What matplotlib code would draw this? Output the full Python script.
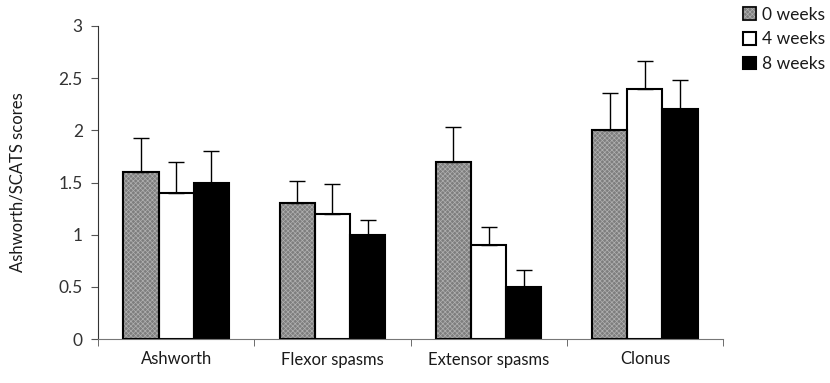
import numpy as np
import matplotlib.pyplot as plt
from matplotlib.legend_handler import HandlerTuple
from matplotlib.patches import Rectangle

plt.rcParams['font.family'] = ['Lato', 'DejaVu Sans']
plt.rcParams['hatch.linewidth'] = 0.5

# mean scores and upper error bars per time point
categories = ["Ashworth", "Flexor spasms", "Extensor spasms", "Clonus"]
weeks_0 = [1.6, 1.3, 1.7, 2.0]
weeks_4 = [1.4, 1.2, 0.9, 2.4]
weeks_8 = [1.5, 1.0, 0.5, 2.2]
err_0 = [0.33, 0.21, 0.33, 0.36]
err_4 = [0.30, 0.29, 0.17, 0.26]
err_8 = [0.30, 0.14, 0.16, 0.28]

series = [
    ("0 weeks", weeks_0, err_0, dict(facecolor="#7e7e7e", hatch="xxxxxxx", edgecolor="#b0b0b0")),
    ("4 weeks", weeks_4, err_4, dict(facecolor="white", edgecolor="black")),
    ("8 weeks", weeks_8, err_8, dict(facecolor="black", edgecolor="black")),
]

fig = plt.figure(figsize=(8.3, 3.83), dpi=100)
ax = fig.add_axes([98 / 830, 44 / 383, 625 / 830, 313 / 383])

x = np.arange(len(categories))
width = 0.225
handles, labels = [], []
for i, (name, vals, errs, style) in enumerate(series):
    pos = x + (i - 1) * width
    bars = ax.bar(pos, vals, width, linewidth=1.5, **style)
    handle = bars
    # hatched bars get a separate black outline
    if "hatch" in style:
        for b in bars:
            ax.add_patch(Rectangle(b.get_xy(), b.get_width(), b.get_height(),
                                   fill=False, edgecolor="black", linewidth=1.5, zorder=3))
        handle = (bars, Rectangle((0, 0), 1, 1, fill=False, edgecolor="black", linewidth=1.2))
    handles.append(handle)
    labels.append(name)
    ax.errorbar(pos, vals, yerr=[np.zeros(len(errs)), errs], fmt="none",
                ecolor="black", elinewidth=1, capsize=6, capthick=1, zorder=1)

ax.set_xlim(-0.5, len(categories) - 0.5)
ax.set_ylim(0, 3)
ax.set_yticks(np.arange(0, 3.01, 0.5))
ax.set_yticklabels(["0", "0.5", "1", "1.5", "2", "2.5", "3"])
ax.set_xticks(x)
ax.set_xticklabels(categories)
ax.set_xticks(np.arange(-0.5, len(categories), 1), minor=True)
ax.tick_params(axis="x", which="major", length=0, pad=9, labelsize=12, labelcolor="#1a1a1a")
ax.tick_params(axis="x", which="minor", length=5, direction="out", color="#555555")
ax.tick_params(axis="y", length=5, direction="out", color="#555555", labelsize=12.5, pad=6,
               labelcolor="#333333")
ax.set_ylabel("Ashworth/SCATS scores", fontsize=12, labelpad=24, color="#1a1a1a")

for side in ("top", "right"):
    ax.spines[side].set_visible(False)
ax.spines["left"].set_color("#333333")
ax.spines["bottom"].set_color("#777777")

leg = fig.legend(handles, labels, loc="upper left", bbox_to_anchor=(733 / 830, 1.01),
                 frameon=False, fontsize=12.5, handlelength=0.75, handleheight=0.75,
                 handletextpad=0.3, labelspacing=0.5, borderaxespad=0.2,
                 handler_map={tuple: HandlerTuple(ndivide=1)})
for t in leg.get_texts():
    t.set_color("#1a1a1a")

fig.savefig("out.png", dpi=100)
